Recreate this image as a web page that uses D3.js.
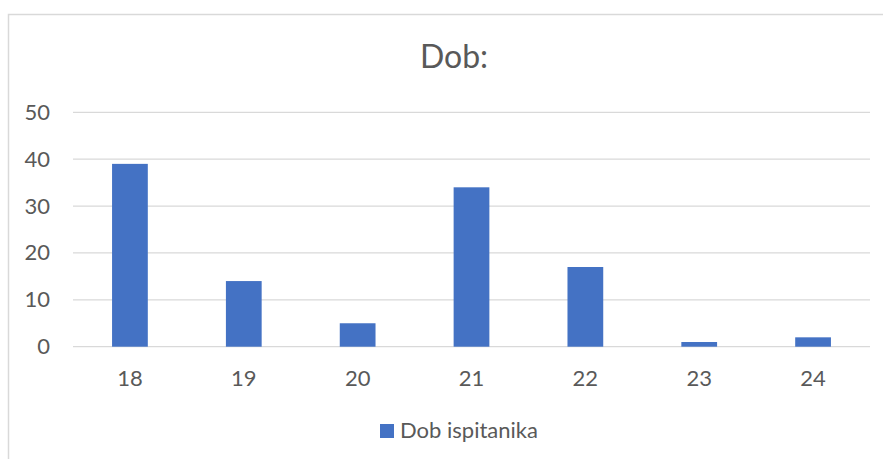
<!DOCTYPE html>
<html>
<head>
<meta charset="utf-8">
<script src="https://cdn.jsdelivr.net/npm/d3@7"></script>
<style>
    body { margin: 0; background: #fff; }
    svg { display: block; }
    text { font-family: Lato, "Open Sans", sans-serif; fill: #595959; }
</style>
</head>
<body>
<div id="chart"></div>
<script>
// data
const categories = ["18", "19", "20", "21", "22", "23", "24"]
const values = [39, 14, 5, 34, 17, 1, 2]
const yTicks = [0, 10, 20, 30, 40, 50]
const seriesName = "Dob ispitanika"
const chartTitle = "Dob:"

//dimensions
let dimensions = {
    width: 883,
    height: 459,
    margin: {top: 112, right: 13, bottom: 112, left: 73},
}

//canvas
const wrapper = d3.select("#chart")
    .append("svg")
    .attr("width", dimensions.width)
    .attr("height", dimensions.height)

// chart border (extends past the right/bottom edge like the reference)
wrapper.append("rect")
    .attr("x", 8.5)
    .attr("y", 14.5)
    .attr("width", 1000)
    .attr("height", 1000)
    .attr("fill", "none")
    .attr("stroke", "#d9d9d9")
    .attr("stroke-width", 1.5)

//scales
const xScale = d3.scaleBand()
    .domain(categories)
    .range([dimensions.margin.left, dimensions.width - dimensions.margin.right])
    .paddingInner(0.686)
    .paddingOuter(0.343)
const yScale = d3.scaleLinear()
    .domain([0, 50])
    .range([346.7, 112.3])

// gridlines
const grid = wrapper.append("g")
grid.selectAll("line")
    .data(yTicks)
    .join("line")
    .attr("x1", dimensions.margin.left)
    .attr("x2", dimensions.width - dimensions.margin.right)
    .attr("y1", d => yScale(d))
    .attr("y2", d => yScale(d))
    .attr("stroke", "#d9d9d9")
    .attr("stroke-width", 1.3)

// bars
wrapper.append("g")
    .selectAll("rect")
    .data(values)
    .join("rect")
    .attr("x", (d, i) => xScale(categories[i]))
    .attr("width", xScale.bandwidth())
    .attr("y", d => yScale(d))
    .attr("height", d => yScale(0) - yScale(d))
    .attr("fill", "#4472c4")

// y axis labels
const yAxis = wrapper.append("g")
    .attr("transform", "translate(50,0)")
    .call(d3.axisLeft(yScale).tickValues(yTicks).tickSize(0).tickPadding(0))
yAxis.select(".domain").remove()
yAxis.selectAll("text")
    .attr("font-size", 22)
    .attr("font-family", "Lato, 'Open Sans', sans-serif")
    .attr("fill", "#595959")

// x axis labels
const xAxis = wrapper.append("g")
    .attr("transform", "translate(0," + yScale(0) + ")")
    .call(d3.axisBottom(xScale).tickSize(0).tickPadding(23.5))
xAxis.select(".domain").remove()
xAxis.selectAll("text")
    .attr("font-size", 22)
    .attr("font-family", "Lato, 'Open Sans', sans-serif")
    .attr("fill", "#595959")

// title
wrapper.append("text")
    .attr("x", 454)
    .attr("y", 68)
    .attr("text-anchor", "middle")
    .attr("font-size", 32)
    .text(chartTitle)

// legend
const legend = wrapper.append("g")
legend.append("rect")
    .attr("x", 380)
    .attr("y", 424)
    .attr("width", 14)
    .attr("height", 14)
    .attr("fill", "#4472c4")
legend.append("text")
    .attr("x", 400)
    .attr("y", 437.5)
    .attr("font-size", 22)
    .text(seriesName)
</script>
</body>
</html>
